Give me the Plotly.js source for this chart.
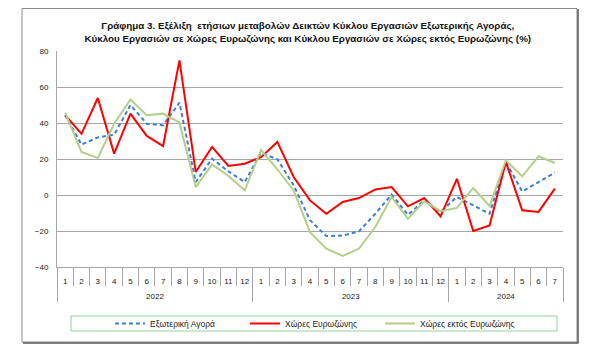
<!DOCTYPE html>
<html>
<head>
<meta charset="utf-8">
<script src="https://cdn.plot.ly/plotly-3.0.1.min.js"></script>
<style>
html,body{margin:0;padding:0;background:#fff;}
#chart{width:600px;height:354px;}
</style>
</head>
<body>
<div id="chart"></div>
<script>
const years = ["2022","2022","2022","2022","2022","2022","2022","2022","2022","2022","2022","2022",
               "2023","2023","2023","2023","2023","2023","2023","2023","2023","2023","2023","2023",
               "2024","2024","2024","2024","2024","2024","2024"];
const months = ["1","2","3","4","5","6","7","8","9","10","11","12",
                "1","2","3","4","5","6","7","8","9","10","11","12",
                "1","2","3","4","5","6","7"];
const exteriorMarket = [44.5, 28, 32, 33.5, 50, 39.6, 38.7, 51.3, 7.2, 20.2, 13.1, 7.2,
                        23.5, 19.8, 5.4, -14, -22.8, -22.5, -20.2, -10.4, 0.2, -11, -3, -9.4,
                        -1.1, -5.7, -10.4, 18.3, 2, 7.2, 12.4];
const eurozone = [44.3, 34, 53.9, 23, 45.2, 32.8, 27.2, 74.8, 12.8, 26.7, 16.1, 17.4,
                  21, 29.5, 10, -3, -10.4, -3.9, -1.7, 3.1, 4.4, -6.3, -1.7, -11.9,
                  9, -20, -16.9, 18.3, -8.5, -9.4, 3.5];
const nonEurozone = [45.7, 23.9, 20.6, 39.6, 53, 44.3, 45.2, 40.2, 4.4, 17, 10.6, 2.6,
                     25, 14.3, 2.5, -20.6, -29.8, -33.9, -29.8, -17.8, -1.1, -13.1, -3.5, -9,
                     -7.2, 3.9, -6.1, 19.3, 10.4, 21.5, 17.8];
const seriesNames = ["Εξωτερική Αγορά", "Χώρες Ευρωζώνης", "Χώρες εκτός Ευρωζώνης"];
const titleText = "Γράφημα 3. Εξέλιξη  ετήσιων μεταβολών Δεικτών Κύκλου Εργασιών Εξωτερικής Αγοράς,<br>Κύκλου Εργασιών σε Χώρες Ευρωζώνης και Κύκλου Εργασιών σε Χώρες εκτός Ευρωζώνης (%)";

const FONT = "'Liberation Sans Narrow', 'Liberation Sans', Arial, sans-serif";
const GRID = "#a6a6a6";

// pixel -> paper helpers (plot area 57..563 x 51..267)
const L = 57, R = 563, T = 51, B = 267;
const px = v => (v - L) / (R - L);
const py = v => (B - v) / (B - T);

// outer (year) labels get a leading line break so they sit lower, as in the original
const yearLabels = years.map(y => "<br>" + y);
const xcat = [yearLabels, months];
const xRange = [-0.5, months.length - 0.5];

const traces = [
  {x: xcat, y: exteriorMarket, name: seriesNames[0], type: "scatter", mode: "lines",
   line: {color: "#3b7fd9", width: 2, dash: "4px,3px"}},
  {x: xcat, y: eurozone, name: seriesNames[1], type: "scatter", mode: "lines",
   line: {color: "#ff0000", width: 2}},
  {x: xcat, y: nonEurozone, name: seriesNames[2], type: "scatter", mode: "lines",
   line: {color: "#b5cf8b", width: 2}}
];

const boundaryVals = months.slice(1).map((m, i) => i + 0.5);

const layout = {
  width: 600, height: 354,
  margin: {l: L, r: 600 - R, t: T, b: 354 - B, pad: 0},
  paper_bgcolor: "#fff", plot_bgcolor: "#fff",
  font: {family: FONT, size: 8, color: "#222"},
  showlegend: true,
  title: {text: titleText, font: {family: FONT, size: 9.8, color: "#111", weight: "bold"},
          x: 0.513, xref: "container", y: 1 - 29/354, yref: "container", yanchor: "top"},
  xaxis: {
    type: "multicategory", range: xRange, autorange: false,
    showgrid: false, zeroline: false,
    showline: true, linecolor: GRID, linewidth: 1,
    ticks: "outside", tickson: "boundaries", ticklen: 18, tickcolor: GRID, tickwidth: 1,
    tickangle: 0,
    ticklabelstandoff: 6,
    showdividers: true, dividercolor: GRID, dividerwidth: 1,
    tickfont: {family: FONT, size: 8, color: "#222"},
    fixedrange: true
  },
  xaxis2: {
    type: "linear", overlaying: "x", anchor: "free", position: py(194.5),
    range: xRange,
    tickmode: "array", tickvals: boundaryVals,
    ticks: "outside", ticklen: 3, tickcolor: GRID, tickwidth: 1,
    showticklabels: false, showgrid: false, zeroline: false, showline: false
  },
  yaxis: {
    range: [-40, 80], dtick: 20, tick0: 0,
    showgrid: true, gridcolor: GRID, gridwidth: 1,
    zeroline: true, zerolinecolor: GRID, zerolinewidth: 1,
    showline: true, linecolor: GRID, linewidth: 1,
    ticks: "", ticklabelstandoff: 6,
    tickfont: {family: FONT, size: 8, color: "#222"},
    fixedrange: true
  },
  legend: {
    orientation: "h", x: px(110), xanchor: "left", y: py(323.5), yanchor: "middle",
    bgcolor: "rgba(0,0,0,0)", borderwidth: 0,
    font: {family: FONT, size: 8.5, color: "#222"},
    entrywidth: 90, entrywidthmode: "pixels", traceorder: "normal",
    itemwidth: 30
  },
  shapes: [
    // outer frame
    {type: "rect", xref: "paper", yref: "paper", x0: px(22), x1: px(577), y0: py(342), y1: py(8.5),
     line: {color: "#8c8c8c", width: 1}, layer: "above"},
    {type: "line", xref: "paper", yref: "paper", x0: px(23), x1: px(578.5), y0: py(343), y1: py(343),
     line: {color: "#5a5a5a", width: 1.5}},
    {type: "line", xref: "paper", yref: "paper", x0: px(578), x1: px(578), y0: py(343), y1: py(9),
     line: {color: "#5a5a5a", width: 1.5}},
    // legend box
    {type: "rect", xref: "paper", yref: "paper", x0: px(71), x1: px(557), y0: py(331), y1: py(316),
     line: {color: "#92d2a0", width: 1}}
  ]
};

Plotly.newPlot("chart", traces, layout, {displayModeBar: false, staticPlot: true});
</script>
</body>
</html>
